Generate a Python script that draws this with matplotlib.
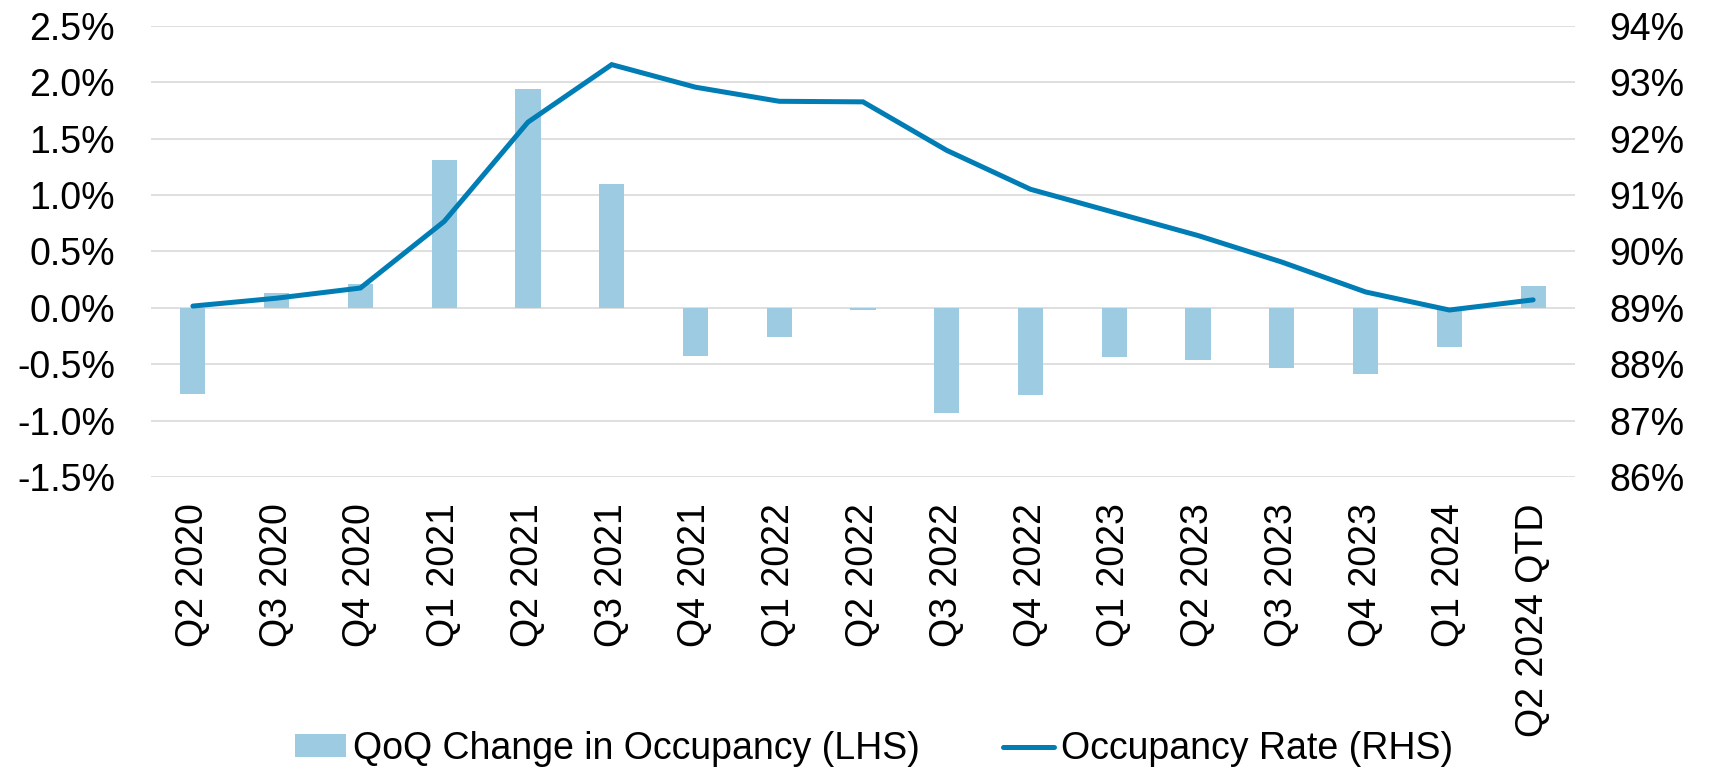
import numpy as np
import matplotlib
matplotlib.use("Agg")
import matplotlib.pyplot as plt
from matplotlib.ticker import FuncFormatter

plt.rcParams['font.family'] = ['Liberation Sans', 'DejaVu Sans']

# data
quarters = ["Q2 2020", "Q3 2020", "Q4 2020", "Q1 2021", "Q2 2021", "Q3 2021",
            "Q4 2021", "Q1 2022", "Q2 2022", "Q3 2022", "Q4 2022", "Q1 2023",
            "Q2 2023", "Q3 2023", "Q4 2023", "Q1 2024", "Q2 2024 QTD"]
qoq_change = [-0.76, 0.135, 0.21, 1.31, 1.94, 1.10, -0.43, -0.26, -0.02,
              -0.93, -0.77, -0.44, -0.465, -0.53, -0.59, -0.35, 0.19]
occupancy = [89.03, 89.17, 89.35, 90.53, 92.29, 93.31, 92.91, 92.66, 92.65,
             91.79, 91.10, 90.69, 90.28, 89.81, 89.28, 88.96, 89.14]

bar_color = "#9DCCE2"
line_color = "#007DB4"
grid_color = "#D9D9D9"
fs = 27

fig = plt.figure(figsize=(17.17, 7.69), dpi=100)
ax = fig.add_axes([151 / 1717, 1 - 477 / 769, (1575 - 151) / 1717, (477 - 25.7) / 769])
ax2 = ax.twinx()

x = np.arange(len(quarters))
ax.bar(x, qoq_change, width=0.30, color=bar_color, zorder=2,
       label="QoQ Change in Occupancy (LHS)")
ax2.plot(x, occupancy, color=line_color, lw=3.6, solid_capstyle="round",
         solid_joinstyle="miter", label="Occupancy Rate (RHS)")

ax.set_xlim(-0.5, len(quarters) - 0.5)
ax.set_ylim(-1.5, 2.5)
ax.set_yticks(np.arange(-1.5, 2.51, 0.5))
ax.yaxis.set_major_formatter(FuncFormatter(lambda v, p: f"{v:.1f}%"))
ax2.set_ylim(86, 94)
ax2.set_yticks(np.arange(86, 94.1, 1))
ax2.yaxis.set_major_formatter(FuncFormatter(lambda v, p: f"{v:.0f}%"))

ax.set_xticks(x)
ax.set_xticklabels(quarters, rotation=90, fontsize=fs)
ax.tick_params(axis="x", length=0, pad=19)
ax.tick_params(axis="y", length=0, pad=26, labelsize=fs)
ax2.tick_params(axis="y", length=0, pad=25, labelsize=fs)

ax.grid(axis="y", color=grid_color, lw=1.2, zorder=0)
ax.set_axisbelow(True)
for a in (ax, ax2):
    for s in a.spines.values():
        s.set_visible(False)

h1, l1 = ax.get_legend_handles_labels()
h2, l2 = ax2.get_legend_handles_labels()
fig.legend(h1 + h2, l1 + l2, loc="center", bbox_to_anchor=(0.509, 0.026),
           ncol=2, frameon=False, fontsize=fs, handlelength=1.36,
           handleheight=0.55, handletextpad=0.19, columnspacing=2.2,
           borderaxespad=0, borderpad=0)

fig.savefig("out.png", dpi=100)
